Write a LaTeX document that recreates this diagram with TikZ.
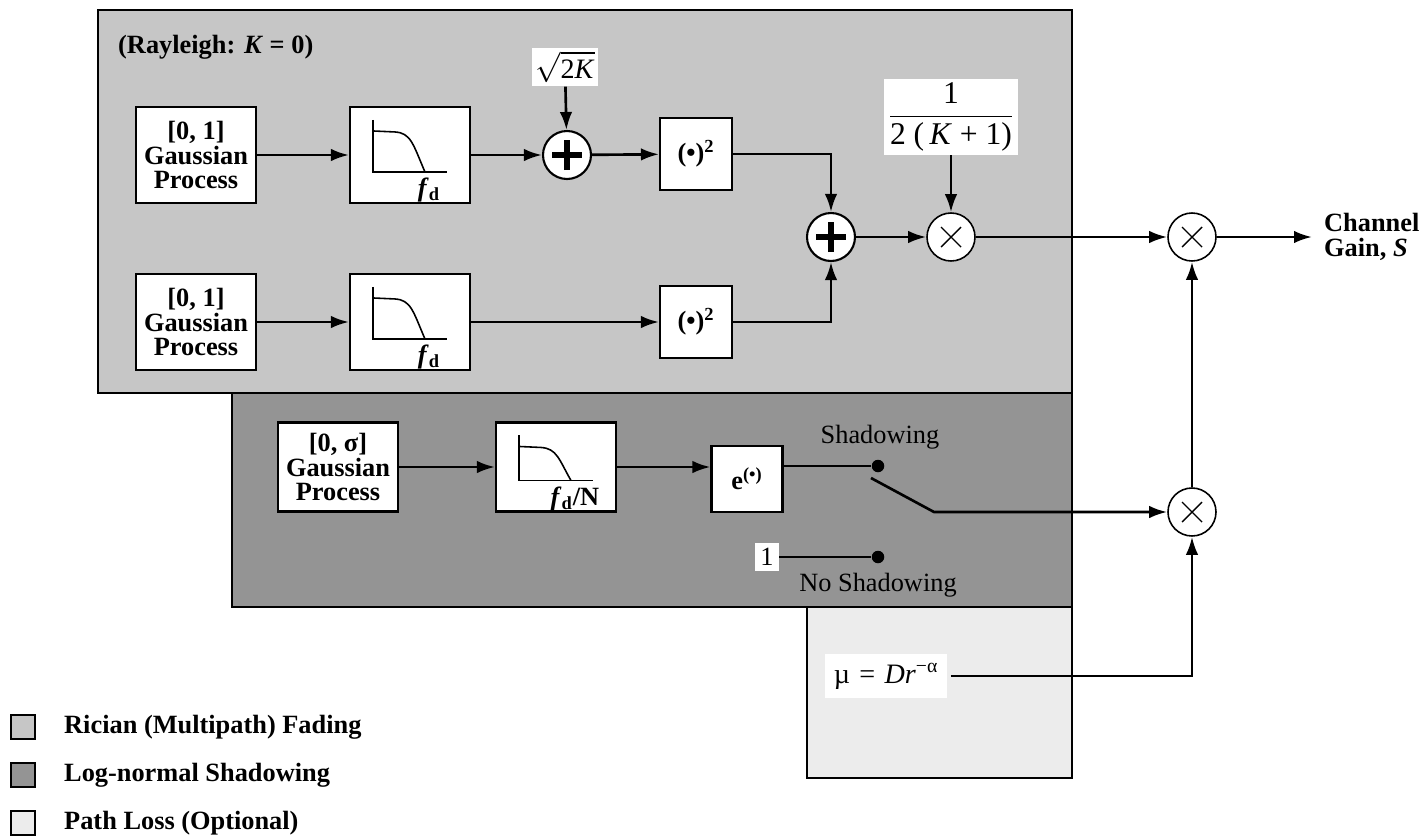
\documentclass[tikz,border=0pt]{standalone}
\usepackage{fontspec}
\setmainfont{Liberation Serif}
\usepackage{amsmath}
\usetikzlibrary{arrows.meta,calc,positioning}
\definecolor{ricianfill}{HTML}{C6C6C6}
\definecolor{shadowfill}{HTML}{949494}
\definecolor{pathfill}{HTML}{ECECEC}
\newcommand{\labelsize}{\fontsize{15}{13.8}\selectfont}

% low-pass sketch inside a filter block: node, axis depth, label
\newcommand{\lowpass}[3]{%
  \draw[line width=0.9pt] ($(#1.north west)+(24,14)$) -- ($(#1.north west)+(24,#2)$) -- ($(#1.north west)+(98,#2)$);
  \draw[line width=0.9pt] ($(#1.north west)+(24,25)$) -- ($(#1.north west)+(46,26)$)
    .. controls ($(#1.north west)+(62,27)$) and ($(#1.north west)+(64,38)$) .. ($(#1.north west)+(76,#2)$);
  \node[font=\labelsize\bfseries, anchor=north] at ($(#1.north west)+(80,#2)$) {#3};
}

\begin{document}
\begin{tikzpicture}[
  x=0.02cm,
  y=-0.02cm,
  every node/.style={font=\labelsize},
  region/.style={draw, line width=1.1pt},
  blk/.style={draw, fill=white, line width=1.2pt, minimum width=2.4cm, minimum height=1.92cm, align=center, inner sep=1pt, font=\labelsize\bfseries},
  sqbox/.style={draw, fill=white, line width=1.2pt, minimum size=1.44cm, inner sep=1pt, font=\labelsize\bfseries},
  sumnode/.style={circle, draw, fill=white, line width=1.2pt, minimum size=0.96cm, inner sep=0pt,
    path picture={\draw[line width=3.2pt]
      ([xshift=-0.3cm]path picture bounding box.center) -- ([xshift=0.3cm]path picture bounding box.center)
      ([yshift=-0.3cm]path picture bounding box.center) -- ([yshift=0.3cm]path picture bounding box.center);}},
  mulnode/.style={circle, draw, fill=white, line width=0.9pt, minimum size=0.96cm, inner sep=0pt,
    path picture={\draw[line width=0.8pt]
      ([shift={(-0.2cm,-0.2cm)}]path picture bounding box.center) -- ([shift={(0.2cm,0.2cm)}]path picture bounding box.center)
      ([shift={(-0.2cm,0.2cm)}]path picture bounding box.center) -- ([shift={(0.2cm,-0.2cm)}]path picture bounding box.center);}},
  constlbl/.style={fill=white, inner sep=2pt},
  contact/.style={circle, fill=black, minimum size=0.25cm, inner sep=0pt},
  legbox/.style={draw, line width=0.9pt, minimum size=0.48cm, inner sep=0pt},
  legtxt/.style={anchor=west, font=\labelsize\bfseries},
  wire/.style={line width=1.5pt, -{Latex[length=3.6mm,width=2.5mm]}},
  plain/.style={line width=1.5pt}
]
  \useasboundingbox (0,0) rectangle (1424,839);

  % shaded regions
  \draw[region, fill=ricianfill] (98,10) rectangle (1072,393);
  \draw[region, fill=shadowfill] (232,393) rectangle (1072,607);
  \draw[region, fill=pathfill] (807,607) rectangle (1072,778);

  \node[anchor=west, font=\labelsize\bfseries] (rayleigh) at (112,47) {(Rayleigh: \textit{K} = 0)};

  % multipath branches
  \node[blk] (g1) at (196,155) {[0, 1]\\Gaussian\\Process};
  \node[blk] (lp1) at (410,155) {};
  \lowpass{lp1}{66}{\textit{f}\textsubscript{d}}
  \node[sumnode] (add1) at (567,155) {};
  \node[constlbl, font=\fontsize{16}{18}\selectfont] (rootk) at (565,67) {$\sqrt{\text{2\textit{K}}}$};
  \node[sqbox] (sq1) at (696,154) {(\textbullet)\textsuperscript{2}};

  \node[blk] (g2) at (196,322) {[0, 1]\\Gaussian\\Process};
  \node[blk] (lp2) at (410,322) {};
  \lowpass{lp2}{66}{\textit{f}\textsubscript{d}}
  \node[sqbox] (sq2) at (696,322) {(\textbullet)\textsuperscript{2}};

  \node[sumnode] (add2) at (831,237) {};
  \node[mulnode] (mul1) at (951,237) {};
  \node[constlbl, font=\fontsize{18}{20}\selectfont] (scale) at (951,117) {$\dfrac{\text{1}}{\text{2 (\,\textit{K} + 1)}}$};

  \node[mulnode] (mulS) at (1192,237) {};
  \coordinate (out) at (1312,237);
  \node[anchor=west, align=left, font=\labelsize\bfseries] (gain) at (1318,237) {Channel\\Gain, \textit{S}};

  % shadowing branch
  \node[blk, minimum height=1.78cm] (g3) at (338,467) {[0, σ]\\Gaussian\\Process};
  \node[blk, minimum height=1.78cm] (lp3) at (556,467) {};
  \lowpass{lp3}{59}{\textit{f}\textsubscript{d}/N}
  \node[sqbox, minimum width=1.42cm, minimum height=1.32cm] (ex) at (747,479) {e\textsuperscript{(\textbullet)}};
  \node[contact] (dotS) at (878,466) {};
  \node[contact] (dotN) at (878,557) {};
  \node (shadow) at (880,437) {Shadowing};
  \node (noshadow) at (878,585) {No Shadowing};
  \node[constlbl, inner sep=3pt] (one) at (767,557) {1};
  \coordinate (pivot) at (871,478);
  \coordinate (knee) at (934,512);
  \node[mulnode] (mulP) at (1192,512) {};

  % path loss
  \node[constlbl, inner sep=5pt, font=\fontsize{16}{18}\selectfont] (mu) at (886,676) {µ\,\,=\,\,\textit{Dr}\textsuperscript{−α}};

  % connections
  \draw[wire] (g1) -- (lp1);
  \draw[wire] (lp1) -- (add1);
  \draw[wire] (rootk) -- (add1);
  \draw[wire] (add1) -- (sq1);
  \draw[wire] (sq1.east) -| (add2.north);
  \draw[wire] (g2) -- (lp2);
  \draw[wire] (lp2) -- (sq2);
  \draw[wire] (sq2.east) -| (add2.south);
  \draw[wire] (add2) -- (mul1);
  \draw[wire] (scale) -- (mul1);
  \draw[wire] (mul1) -- (mulS);
  \draw[wire] (mulS) -- (out);

  \draw[wire] (g3) -- (lp3);
  \draw[wire] (lp3.east) -- (lp3.east -| ex.west);
  \draw[plain] (ex.east |- dotS) -- (dotS);
  \draw[plain] (one) -- (dotN);
  \draw[wire] (pivot) -- (knee) -- (mulP.west);
  \draw[wire] (mulP) -- (mulS);
  \draw[wire] ([xshift=2pt]mu.east) -| (mulP.south);

  % legend
  \node[legbox, fill=ricianfill] (leg1) at (23,727) {};
  \node[legbox, fill=shadowfill] (leg2) at (23,775) {};
  \node[legbox, fill=pathfill] (leg3) at (23,823) {};
  \node[legtxt] at (58,727) {Rician (Multipath) Fading};
  \node[legtxt] at (58,775) {Log-normal Shadowing};
  \node[legtxt] at (58,823) {Path Loss (Optional)};
\end{tikzpicture}
\end{document}
